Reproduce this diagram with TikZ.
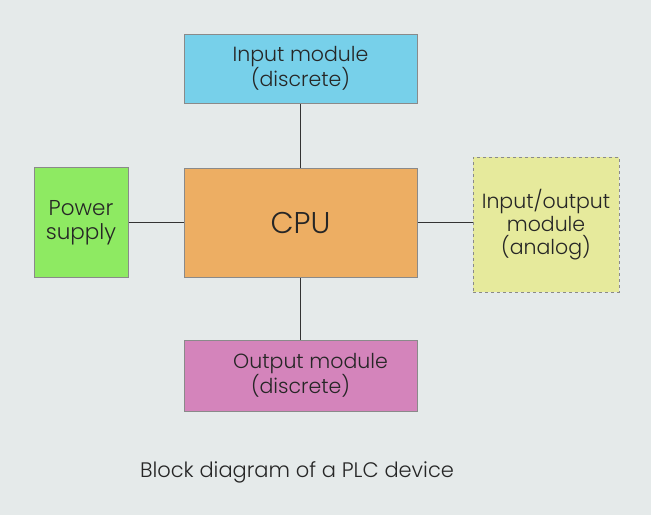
\documentclass[tikz,border=0pt]{standalone}
\usepackage{fontspec}
\setmainfont{Poppins}[UprightFont={* Light}]
\usetikzlibrary{positioning}

\definecolor{bgcol}{HTML}{E5EAEA}
\definecolor{incol}{HTML}{77D0EA}
\definecolor{pwrcol}{HTML}{8EEA62}
\definecolor{cpucol}{HTML}{EDAE63}
\definecolor{iocol}{HTML}{E6EA9C}
\definecolor{outcol}{HTML}{D484BB}
\definecolor{edgecol}{HTML}{8A8A8A}

\begin{document}
\begin{tikzpicture}[x=1pt,y=-1pt]

\tikzset{block/.style={draw=edgecol,line width=1pt,align=center,inner sep=0pt,font=\fontsize{20.5}{23}\selectfont,text=black!85},
         wire/.style={draw=black!80,line width=1.3pt}}

\fill [bgcol] (0,0) rectangle (651,515);
\useasboundingbox (0,0) rectangle (651,515);

% blocks
\node (cpu) [block,fill=cpucol,minimum width=233pt,minimum height=109pt,font=\fontsize{30}{34}\selectfont] at (300.5,222.5) {CPU};
\node (input) [block,fill=incol,minimum width=233pt,minimum height=69pt] at (300.5,68.5) {Input module\\(discrete)};
\node (output) [block,fill=outcol,minimum width=233pt,minimum height=71pt] at (300.5,375.5) {\hspace*{20pt}Output module\\(discrete)};
\node (power) [block,fill=pwrcol,minimum width=94pt,minimum height=110pt,font=\fontsize{21.5}{24}\selectfont] at (81,222.5) {Power\\supply};
\node (io) [block,fill=iocol,dashed,minimum width=146pt,minimum height=135pt] at (546,224.5) {Input/output\\module\\(analog)};

% connections
\draw [wire] (cpu.north) -- (input.south);
\draw [wire] (cpu.south) -- (output.north);
\draw [wire] (power.east) -- (cpu.west);
\draw [wire] (cpu.east) -- (cpu.east -| io.west);

\node (caption) [font=\fontsize{21}{25}\selectfont,text=black!85] at (297,472) {Block diagram of a PLC device};

\end{tikzpicture}
\end{document}
